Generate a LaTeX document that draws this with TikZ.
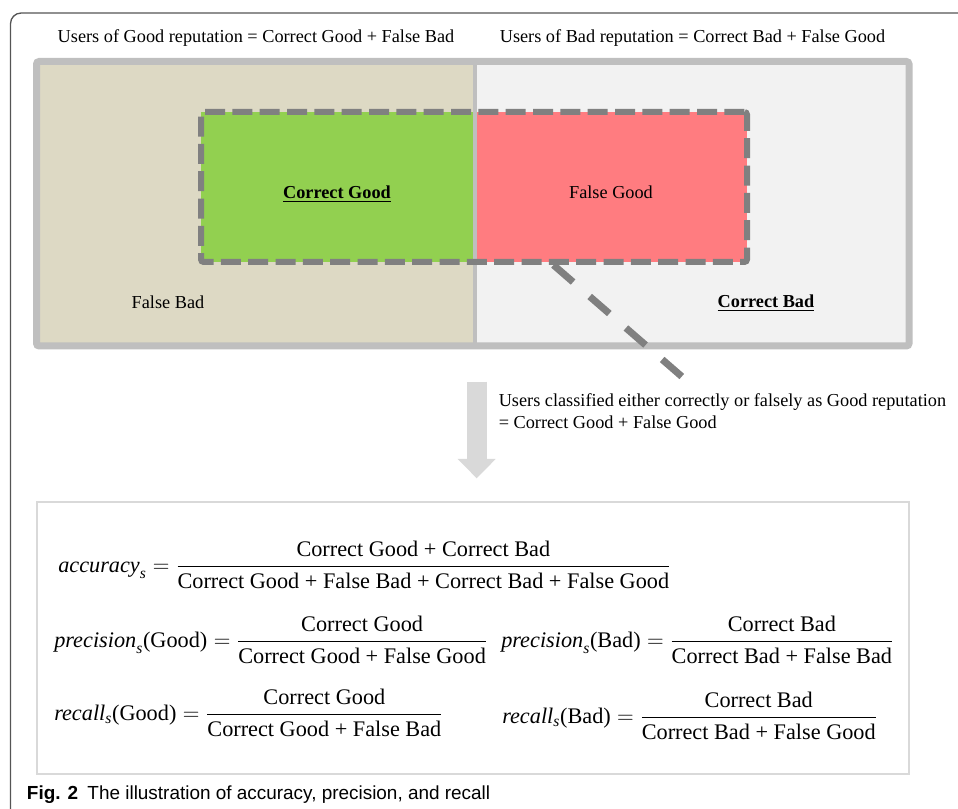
\documentclass[tikz,border=0pt]{standalone}
\usepackage{fontspec}
\setmainfont{Liberation Serif}
\newfontfamily\captionfont{Liberation Sans}
\usepackage{amsmath}
\usepackage{tikz}
\usetikzlibrary{arrows.meta, positioning}
\definecolor{tanback}{RGB}{221, 217, 196}
\definecolor{paleback}{RGB}{242, 242, 242}
\definecolor{rimgray}{RGB}{191, 191, 191}
\definecolor{goodgreen}{RGB}{146, 208, 80}
\definecolor{falsered}{RGB}{255, 124, 128}
\definecolor{dashgray}{RGB}{128, 128, 128}
\definecolor{arrowgray}{RGB}{217, 217, 217}
\definecolor{framegray}{RGB}{85, 85, 85}

\begin{document}
\begin{tikzpicture}[x=0.75pt, y=-0.75pt,
    txt/.style={font=\fontsize{13.7}{16.5}\selectfont, inner sep=0pt},
    keytxt/.style={font=\fontsize{13.7}{16.5}\selectfont\bfseries, inner sep=0pt},
    formula/.style={font=\fontsize{16.7}{20}\selectfont, inner sep=0pt, anchor=west},
    predbox/.style={draw=dashgray, line width=4.5pt, dash pattern=on 15pt off 5.5pt,
                    rounded corners=2pt, inner sep=0pt},
    pointer/.style={draw=dashgray, line width=5.25pt, dash pattern=on 19.5pt off 16.5pt},
    bigarrow/.style={draw=arrowgray, line width=15pt,
                     -{Triangle[width=28.5pt, length=14.5pt, line width=0pt]}}
]
    \clip (0,0) rectangle (958,809);
    \draw[framegray, line width=1pt, rounded corners=8pt] (10.5,13) rectangle (1000,900);

    \node[txt, anchor=base] (goodusers) at (256,42.5) {Users of Good reputation = Correct Good + False Bad};
    \node[txt, anchor=base] (badusers) at (692.5,42.5) {Users of Bad reputation = Correct Bad + False Good};

    \fill[tanback] (36.5,61.5) rectangle (475,346);
    \fill[paleback] (475,61.5) rectangle (909,346);
    \fill[goodgreen] (201,112) rectangle (475,262);
    \fill[falsered] (475,112) rectangle (747,262);
    \draw[rimgray, line width=3pt] (475,61.5) -- (475,346);
    \draw[rimgray, line width=5.25pt, rounded corners=2pt] (36.5,61.5) rectangle (909,346);
    \node[predbox, minimum width=409.5pt, minimum height=112.5pt] (predgood) at (474,187) {};

    \node[keytxt, anchor=base] (corgood) at (337,198.5) {\underline{Correct Good}};
    \node[txt, anchor=base] (falsegood) at (611,198.5) {False Good};
    \node[txt, anchor=base] (falsebad) at (168,308.5) {False Bad};
    \node[keytxt, anchor=base] (corbad) at (766,307.5) {\underline{Correct Bad}};

    \coordinate (pointerstart) at ([xshift=59.6pt]predgood.south);
    \coordinate (pointerend) at (683.5,378);
    \draw[pointer] (pointerstart) -- (pointerend);

    \node[txt, anchor=base west, align=left] (classified) at (498.5,428.3)
        {Users classified either correctly or falsely as Good reputation\\= Correct Good + False Good};

    \coordinate (arrowtop) at (476.7,381.7);
    \coordinate (arrowtip) at (476.7,478.3);
    \draw[bigarrow] (arrowtop) -- (arrowtip);

    \node[draw=arrowgray, line width=1.5pt, minimum width=654.6pt, minimum height=204pt,
          inner sep=0pt] (formulas) at (472.9,637.7) {};

    \node[formula] (accuracy) at (58,565)
        {$\text{\itshape accuracy}_{\text{\itshape s}} = \dfrac{\text{Correct Good + Correct Bad}}{\text{Correct Good + False Bad + Correct Bad + False Good}}$};
    \node[formula] (precgood) at (54,640)
        {$\text{\itshape precision}_{\text{\itshape s}}\text{(Good)} = \dfrac{\text{Correct Good}}{\text{Correct Good + False Good}}$};
    \node[formula] (precbad) at (501,640)
        {$\text{\itshape precision}_{\text{\itshape s}}\text{(Bad)} = \dfrac{\text{Correct Bad}}{\text{Correct Bad + False Bad}}$};
    \node[formula] (recgood) at (54,713)
        {$\text{\itshape recall}_{\text{\itshape s}}\text{(Good)} = \dfrac{\text{Correct Good}}{\text{Correct Good + False Bad}}$};
    \node[formula] (recbad) at (502,716)
        {$\text{\itshape recall}_{\text{\itshape s}}\text{(Bad)} = \dfrac{\text{Correct Bad}}{\text{Correct Bad + False Good}}$};

    \node[anchor=base west, inner sep=0pt, font=\captionfont\fontsize{14.2}{17}\selectfont] (caption) at (26.7,799)
        {\textbf{Fig. 2}\hspace{7pt}The illustration of accuracy, precision, and recall};
\end{tikzpicture}
\end{document}
